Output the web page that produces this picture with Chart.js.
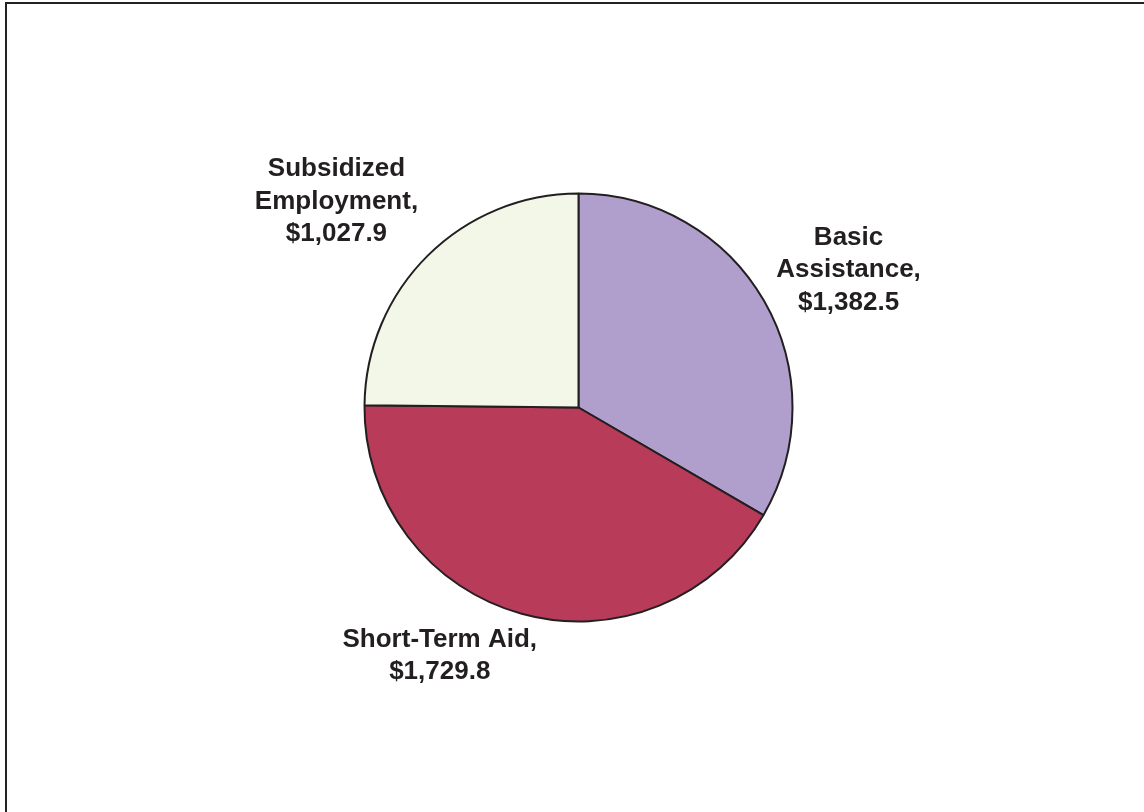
<!DOCTYPE html>
<html>
<head>
<meta charset="utf-8">
<script src="https://cdn.jsdelivr.net/npm/chart.js@4/dist/chart.umd.min.js"></script>
<style>
  html, body { margin: 0; padding: 0; background: #ffffff; }
  #wrap { position: relative; width: 1144px; height: 812px; overflow: hidden; }
  #frame { position: absolute; left: 5px; top: 2px; width: 1200px; height: 900px;
           border-top: 2px solid #222222; border-left: 2px solid #222222; }
  canvas { position: absolute; left: 0; top: 0; }
</style>
</head>
<body>
<div id="wrap">
  <div id="frame"></div>
  <canvas id="c" width="1144" height="812"></canvas>
</div>
<script>
// ---- data ----
const categories = ['Basic Assistance', 'Short-Term Aid', 'Subsidized Employment'];
const labelLines = [['Basic', 'Assistance,'], ['Short-Term Aid,'], ['Subsidized', 'Employment,']];
const values = [1382.5, 1729.8, 1027.9];

// ---- styles ----
const sliceColors = ['#b09fcc', '#b83b5a', '#f2f7e8'];
// label placement relative to each slice: radial factor and angle tweak (degrees)
const labelPlacement = [
  { factor: 1.42, tweak: 2.6 },
  { factor: 1.32, tweak: 14.0 },
  { factor: 1.492, tweak: -4.6 }
];

function fmt(v) {
  return '$' + v.toLocaleString('en-US', { minimumFractionDigits: 1, maximumFractionDigits: 1 });
}

const outsideLabels = {
  id: 'outsideLabels',
  afterDraw(chart) {
    const ctx = chart.ctx;
    const meta = chart.getDatasetMeta(0);
    const fontSize = 26;
    const lh = 32.5;
    ctx.save();
    ctx.font = 'bold ' + fontSize + 'px "Liberation Sans", Arial, sans-serif';
    ctx.fillStyle = '#231f20';
    ctx.textAlign = 'center';
    ctx.textBaseline = 'alphabetic';
    meta.data.forEach((arc, i) => {
      const p = arc.getProps(['x', 'y', 'startAngle', 'endAngle', 'outerRadius'], true);
      const a = (p.startAngle + p.endAngle) / 2 + labelPlacement[i].tweak * Math.PI / 180;
      const d = p.outerRadius * labelPlacement[i].factor;
      const ax = p.x + Math.cos(a) * d;
      const ay = p.y + Math.sin(a) * d;
      const lines = labelLines[i].concat([fmt(values[i])]);
      const n = lines.length;
      lines.forEach((t, j) => {
        const by = ay + (j - (n - 1) / 2) * lh + fontSize * 0.716 / 2;
        ctx.fillText(t, ax, by);
      });
    });
    ctx.restore();
  }
};

new Chart(document.getElementById('c'), {
  type: 'pie',
  data: {
    labels: categories,
    datasets: [{
      data: values,
      backgroundColor: sliceColors,
      borderColor: '#231f20',
      borderWidth: 2,
      borderAlign: 'center'
    }]
  },
  options: {
    responsive: false,
    animation: false,
    layout: { padding: { top: 192.5, bottom: 189.5, left: 278.5, right: 265.5 } },
    plugins: {
      legend: { display: false },
      tooltip: { enabled: false },
      title: { display: false }
    }
  },
  plugins: [outsideLabels]
});
</script>
</body>
</html>
